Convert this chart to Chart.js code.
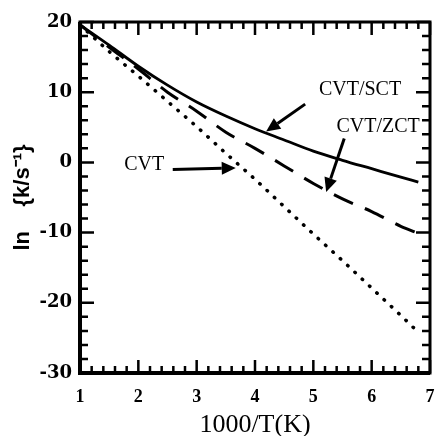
<!DOCTYPE html>
<html>
<head>
<meta charset="utf-8">
<script src="https://cdn.jsdelivr.net/npm/chart.js@4.4.0/dist/chart.umd.min.js"></script>
<style>
  body { margin: 0; background: #fff; }
  canvas { display: block; }
</style>
</head>
<body>
<canvas id="rate-chart" width="436" height="436"></canvas>
<script>
  // values, x = 1000/T(K), y = ln{k/s-1}
  const xValues = [1.0, 1.5, 2, 2.5, 3, 3.5, 4, 4.5, 5, 5.5, 6, 6.5, 6.8];
  const sctValues = [19.6, 16.7, 13.7, 11.0, 8.6, 6.6, 4.8, 3.2, 1.6, 0.3, -0.9, -2.1, -2.8];
  const zctValues = [19.6, 16.4, 13.3, 10.0, 7.3, 4.3, 2.0, -0.5, -3.0, -5.2, -7.0, -9.1, -10.1];
  const cvtValues = [19.6, 15.8, 12.3, 8.7, 5.1, 1.3, -2.4, -6.3, -10.2, -14.0, -17.9, -21.8, -24.2];

  const xTicks = [1, 2, 3, 4, 5, 6, 7];
  const yTicks = [-30, -20, -10, 0, 10, 20];

  // labels with arrows: text spot and arrow from -> to, in data units
  const notes = [
    { text: 'CVT/SCT', at: [5.80, 10.4], from: [4.86, 8.3], to: [4.19, 4.4] },
    { text: 'CVT/ZCT', at: [6.11, 5.1], from: [5.53, 3.4], to: [5.22, -4.2] },
    { text: 'CVT', at: [2.10, -0.4], from: [2.59, -1.0], to: [3.67, -0.8] }
  ];

  function pairs(ys) {
    return xValues.map((x, i) => ({ x: x, y: ys[i] }));
  }

  // frame + inward ticks on all four sides
  const framePlugin = {
    id: 'frame',
    beforeDraw(chart) {
      const c = chart.ctx;
      c.save();
      c.fillStyle = '#fff';
      c.fillRect(0, 0, chart.width, chart.height);
      c.restore();
    },
    afterDraw(chart) {
      const c = chart.ctx;
      const a = chart.chartArea;
      const xs = chart.scales.x, ys = chart.scales.y;
      c.save();
      c.strokeStyle = '#000';
      c.lineCap = 'butt';

      c.lineWidth = 2.5;
      for (let v = 1; v <= 7.001; v += 0.2) {
        const px = xs.getPixelForValue(v);
        const len = Math.abs(v - Math.round(v)) < 0.01 ? 13 : 7;
        c.beginPath();
        c.moveTo(px, a.bottom); c.lineTo(px, a.bottom - len);
        c.moveTo(px, a.top); c.lineTo(px, a.top + len);
        c.stroke();
      }
      for (let v = -30; v <= 20; v += 2) {
        const py = ys.getPixelForValue(v);
        const len = v % 10 === 0 ? 14 : 8;
        c.beginPath();
        c.moveTo(a.left, py); c.lineTo(a.left + len, py);
        c.moveTo(a.right, py); c.lineTo(a.right - len, py);
        c.stroke();
      }

      c.lineWidth = 3;
      c.strokeRect(a.left, a.top, a.right - a.left, a.bottom - a.top);
      c.lineWidth = 4;
      c.beginPath();
      c.moveTo(a.left, a.top); c.lineTo(a.left, a.bottom); c.lineTo(a.right, a.bottom);
      c.stroke();

      // text + arrows
      c.fillStyle = '#000';
      c.font = '20px "Liberation Serif"';
      c.textAlign = 'center';
      c.textBaseline = 'middle';
      notes.forEach(n => {
        c.fillText(n.text, xs.getPixelForValue(n.at[0]), ys.getPixelForValue(n.at[1]));
        const x1 = xs.getPixelForValue(n.from[0]), y1 = ys.getPixelForValue(n.from[1]);
        const x2 = xs.getPixelForValue(n.to[0]), y2 = ys.getPixelForValue(n.to[1]);
        const ang = Math.atan2(y2 - y1, x2 - x1);
        const hl = 14, hw = 6.5;
        const bx = x2 - hl * Math.cos(ang), by = y2 - hl * Math.sin(ang);
        c.lineWidth = 3;
        c.beginPath();
        c.moveTo(x1, y1); c.lineTo(bx, by);
        c.stroke();
        c.beginPath();
        c.moveTo(x2, y2);
        c.lineTo(bx + hw * Math.sin(ang), by - hw * Math.cos(ang));
        c.lineTo(bx - hw * Math.sin(ang), by + hw * Math.cos(ang));
        c.closePath();
        c.fill();
      });
      c.restore();
    }
  };

  const ctx = document.getElementById('rate-chart').getContext('2d');
  const rateChart = new Chart(ctx, {
    type: 'line',
    data: {
      datasets: [
        {
          label: 'CVT/SCT',
          data: pairs(sctValues),
          borderColor: '#000',
          borderWidth: 2.8,
          pointRadius: 0,
          cubicInterpolationMode: 'monotone'
        },
        {
          label: 'CVT/ZCT',
          data: pairs(zctValues),
          borderColor: '#000',
          borderWidth: 3,
          borderDash: [21, 13],
          pointRadius: 0,
          cubicInterpolationMode: 'monotone'
        },
        {
          label: 'CVT',
          data: pairs(cvtValues),
          borderColor: '#000',
          borderWidth: 3.5,
          borderDash: [0.5, 9.5],
          borderCapStyle: 'round',
          pointRadius: 0,
          cubicInterpolationMode: 'monotone'
        }
      ]
    },
    options: {
      responsive: false,
      animation: false,
      events: [],
      layout: { padding: { top: 22, right: 6, left: 0, bottom: 0 } },
      plugins: {
        legend: { display: false },
        tooltip: { enabled: false }
      },
      scales: {
        x: {
          type: 'linear',
          min: 1,
          max: 7,
          afterBuildTicks: s => { s.ticks = xTicks.map(v => ({ value: v })); },
          afterFit: s => { s.height = 63; s.paddingLeft = 0; s.paddingRight = 0; },
          grid: { display: false, drawTicks: false },
          border: { display: false },
          ticks: {
            color: '#000',
            padding: 14,
            font: { family: '"Liberation Serif"', size: 18, weight: 'bold' }
          },
          title: {
            display: true,
            text: '1000/T(K)',
            color: '#000',
            font: { family: '"Liberation Serif"', size: 26, lineHeight: 0.8 },
            padding: { top: 0, bottom: 0 }
          }
        },
        y: {
          type: 'linear',
          min: -30,
          max: 20,
          afterBuildTicks: s => { s.ticks = yTicks.map(v => ({ value: v })); },
          afterFit: s => { s.width = 80; },
          grid: { display: false, drawTicks: false },
          border: { display: false },
          ticks: {
            color: '#000',
            padding: 8,
            font: { family: '"DejaVu Serif"', size: 18, weight: 'bold' }
          },
          title: {
            display: true,
            text: 'ln    {k/s⁻¹}',
            color: '#000',
            font: { family: '"Liberation Sans"', size: 22, weight: 'bold', lineHeight: 1.2 },
            padding: { top: 10, bottom: 0 }
          }
        }
      }
    },
    plugins: [framePlugin]
  });
</script>
</body>
</html>
